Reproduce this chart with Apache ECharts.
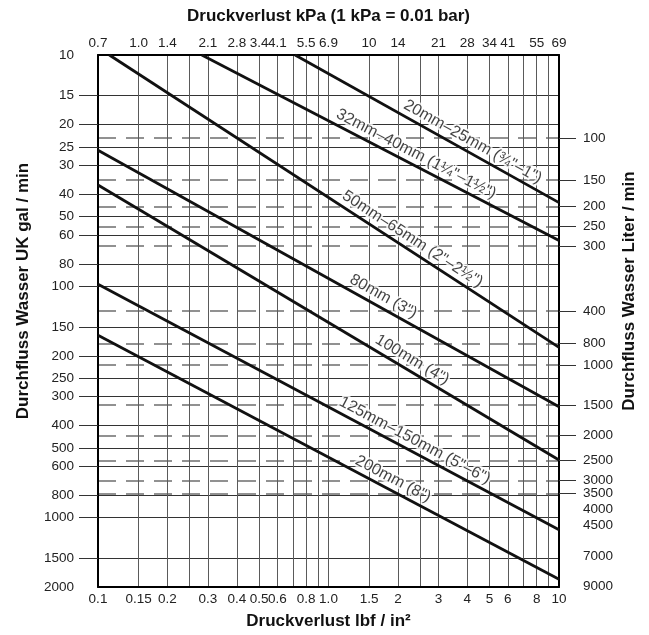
<!DOCTYPE html>
<html><head><meta charset="utf-8">
<script src="https://cdn.jsdelivr.net/npm/echarts@6/dist/echarts.min.js"></script>
<style>html,body{margin:0;padding:0;background:#fff}#c{width:649px;height:635px}</style>
</head><body><div id="c"></div>
<script>
// ---- Bottom axis: pressure loss in lbf/in² (psi), logarithmic ----
const psiGrid = [0.1,0.15,0.2,0.25,0.3,0.4,0.5,0.6,0.7,0.8,0.9,1,1.5,2,2.5,3,4,5,6,7,8,9,10];
const psiLabelValues = [0.1,0.15,0.2,0.3,0.4,0.5,0.6,0.8,1,1.5,2,3,4,5,6,8,10];
const psiLabels = ['0.1','0.15','0.2','0.3','0.4','0.5','0.6','0.8','1.0','1.5','2','3','4','5','6','8','10'];
// ---- Top axis: same positions, printed in kPa ----
const kpaLabels = ['0.7','1.0','1.4','2.1','2.8','3.4','4.1','5.5','6.9','10','14','21','28','34','41','55','69'];
// ---- Left axis: flow UK gal/min, logarithmic ----
const galValues = [10,15,20,25,30,40,50,60,80,100,150,200,250,300,400,500,600,800,1000,1500,2000];
const galLabels = ['10','15','20','25','30','40','50','60','80','100','150','200','250','300','400','500','600','800','1000','1500','2000'];
const galGridValues = [15,20,25,30,40,50,60,80,100,150,200,250,300,400,500,600,800,1000,1500];
// ---- Right axis: flow litre/min (positions, in litres) ----
const GAL_TO_L = 4.546;
const literLineValues = [104,158,206,251,304,582,803,997,1485,2014,2584,3155,3576];
const literLabelValues = [104,158,206,251,304,582,803,997,1485,2014,2584,3155,3576,4180,4904,6677,9063];
const literLabels = ['100','150','200','250','300','400','800','1000','1500','2000','2500','3000','3500','4000','4500','7000','9000'];
// ---- Pipe curves: [start, end] in psi and UK gal/min ----
const pipeNames = ['20mm–25mm (¾"–1")','32mm–40mm (1¼"–1½")','50mm–65mm (2"–2½")','80mm (3")','100mm (4")','125mm–150mm (5"–6")','200mm (8")'];
const pipePsi = [[0.716,10],[0.282,10],[0.112,10],[0.1,10],[0.1,10],[0.1,10],[0.1,10]];
const pipeGal = [[10,43.5],[10,63.5],[10,184],[25.8,332],[36.5,565],[98,1130],[163,1850]];
const labelPsi = [4.0,2.28,2.18,1.64,2.18,2.25,1.81];

const L = Math.log10;
const FONT = "'Liberation Sans',Arial,sans-serif";
const TFONT = "'Liberation Sans',Arial,sans-serif";
function pick(vals, labels, conv) {
  return function (v) {
    for (let i = 0; i < vals.length; i++) {
      if (Math.abs(conv(vals[i]) - v) < 1e-6) return labels[i];
    }
    return '';
  };
}
const toLogGal = v => L(v / GAL_TO_L);

const chart = echarts.init(document.getElementById('c'), null, {renderer: 'canvas', width: 649, height: 635});

const tickFont = {fontFamily: FONT, fontSize: 13.5, color: '#222'};
const nameFont = {fontFamily: TFONT, fontWeight: 'bold', fontSize: 17, color: '#111'};

const lineSeries = pipeNames.map((n, i) => ({
  type: 'line', name: n, xAxisIndex: 0, yAxisIndex: 0, z: 5,
  symbol: 'none', silent: true, animation: false,
  lineStyle: {color: '#111', width: 2.8},
  data: pipePsi[i].map((p, j) => [L(p), L(pipeGal[i][j])])
}));

function anchor(i) {
  const x0 = L(pipePsi[i][0]), x1 = L(pipePsi[i][1]);
  const y0 = L(pipeGal[i][0]), y1 = L(pipeGal[i][1]);
  const x = L(labelPsi[i]);
  return [x, y0 + (x - x0) * (y1 - y0) / (x1 - x0)];
}

const option = {
  animation: false,
  backgroundColor: '#fff',
  grid: {left: 98, right: 90, top: 55, bottom: 48, containLabel: false, outerBoundsMode: 'none'},
  xAxis: [
    {type: 'value', position: 'bottom', min: L(0.1), max: L(10),
     axisLine: {show: true, onZero: false, lineStyle: {color: '#000', width: 2}},
     axisTick: {show: false, customValues: psiGrid.map(L)},
     splitLine: {show: true, lineStyle: {color: '#5a5a5a', width: 1}},
     axisLabel: Object.assign({customValues: psiLabelValues.map(L), formatter: pick(psiLabelValues, psiLabels, L), margin: 5}, tickFont),
     name: 'Druckverlust lbf / in²', nameLocation: 'middle', nameGap: 26, nameMoveOverlap: false, nameTextStyle: nameFont},
    {type: 'value', position: 'top', min: L(0.1), max: L(10),
     axisLine: {show: true, onZero: false, lineStyle: {color: '#000', width: 2}},
     axisTick: {show: false},
     splitLine: {show: false},
     axisLabel: Object.assign({customValues: psiLabelValues.map(L), formatter: pick(psiLabelValues, kpaLabels, L), margin: 5}, tickFont),
     name: 'Druckverlust kPa (1 kPa = 0.01 bar)', nameLocation: 'middle', nameGap: 30, nameMoveOverlap: false, nameTextStyle: nameFont}
  ],
  yAxis: [
    {type: 'value', position: 'left', inverse: true, min: 1, max: L(2000),
     axisLine: {show: true, onZero: false, lineStyle: {color: '#000', width: 2}},
     axisTick: {show: true, length: 19, customValues: galGridValues.map(L), lineStyle: {color: '#333', width: 1}},
     splitLine: {show: true, lineStyle: {color: '#333', width: 1}},
     axisLabel: Object.assign({customValues: galValues.map(L), formatter: pick(galValues, galLabels, L), margin: 24}, tickFont),
     name: 'Durchfluss Wasser UK gal / min', nameLocation: 'middle', nameRotate: 90, nameGap: 66, nameMoveOverlap: false,
     nameTextStyle: Object.assign({padding: [0, 0, 0, 60]}, nameFont)},
    {type: 'value', position: 'right', inverse: true, min: 1, max: L(2000),
     axisLine: {show: true, onZero: false, lineStyle: {color: '#000', width: 2}},
     axisTick: {show: true, length: 17, customValues: literLineValues.map(toLogGal), lineStyle: {color: '#333', width: 1}},
     splitLine: {show: true, lineStyle: {color: '#6e6e6e', width: 1.5, type: [18, 10]}},
     axisLabel: Object.assign({customValues: literLabelValues.map(toLogGal), formatter: pick(literLabelValues, literLabels, toLogGal), margin: 24}, tickFont),
     name: 'Durchfluss Wasser Liter / min', nameLocation: 'middle', nameRotate: 90, nameGap: 62, nameMoveOverlap: false,
     nameTextStyle: Object.assign({padding: [0, 0, 0, 60]}, nameFont)}
  ],
  series: lineSeries.concat([{
    type: 'scatter', xAxisIndex: 0, yAxisIndex: 0, z: 3, silent: true,
    symbolSize: 0.01, itemStyle: {color: 'rgba(0,0,0,0)'},
    label: {show: true, formatter: '{b}', position: [0, 0], align: 'center', verticalAlign: 'bottom',
            padding: [0, 0, 3, 0], fontFamily: TFONT, fontSize: 16, color: '#111',
            textBorderColor: '#fff', textBorderWidth: 4},
    data: pipeNames.map((n, i) => ({name: n, value: anchor(i)}))
  }])
};
chart.setOption(option);

// rotate each label to follow its curve (angle measured in screen pixels via the grid)
const rot = pipeNames.map((n, i) => {
  const a = chart.convertToPixel({gridIndex: 0}, [L(pipePsi[i][0]), L(pipeGal[i][0])]);
  const b = chart.convertToPixel({gridIndex: 0}, [L(pipePsi[i][1]), L(pipeGal[i][1])]);
  return -Math.atan2(b[1] - a[1], b[0] - a[0]) * 180 / Math.PI;
});
chart.setOption({series: lineSeries.concat([{
  data: pipeNames.map((n, i) => ({name: n, value: anchor(i), label: {rotate: rot[i]}}))
}])});
</script></body></html>
